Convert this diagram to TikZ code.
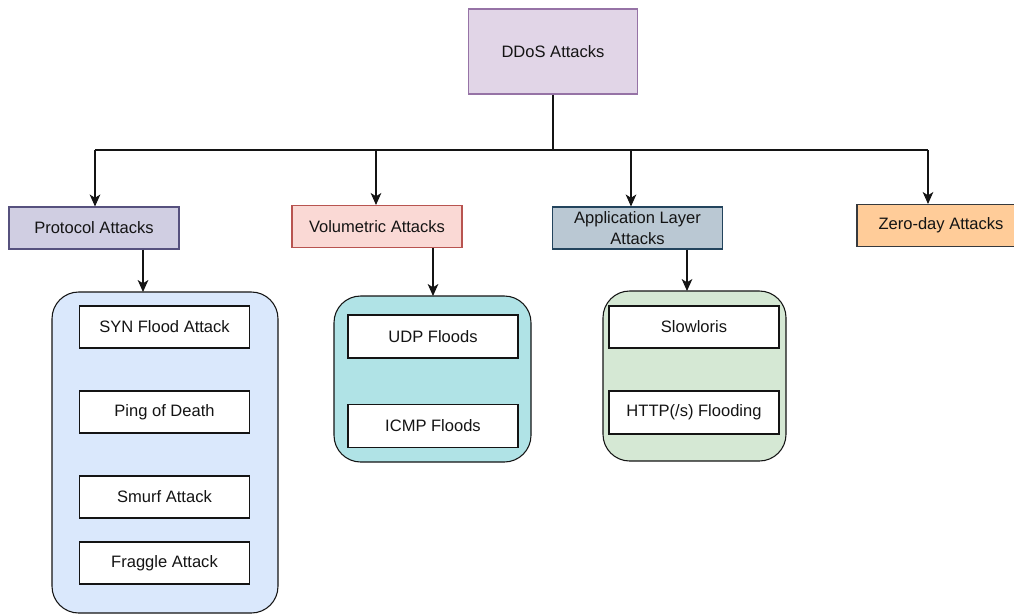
\documentclass[tikz,border=0pt]{standalone}
\usepackage{fontspec}
\setmainfont{Liberation Sans}
\usetikzlibrary{arrows.meta}

\definecolor{ddosfill}{HTML}{E1D5E7}
\definecolor{ddosline}{HTML}{9673A6}
\definecolor{protofill}{HTML}{D0CEE2}
\definecolor{protoline}{HTML}{56517E}
\definecolor{volfill}{HTML}{FAD9D5}
\definecolor{volline}{HTML}{B85450}
\definecolor{appfill}{HTML}{BAC8D3}
\definecolor{appline}{HTML}{23445D}
\definecolor{zerofill}{HTML}{FFCC99}
\definecolor{zeroline}{HTML}{36393D}
\definecolor{bluebg}{HTML}{DAE8FC}
\definecolor{tealbg}{HTML}{B0E3E6}
\definecolor{greenbg}{HTML}{D5E8D4}
\definecolor{ink}{HTML}{141414}

\tikzset{
  box/.style={draw, line width=0.8pt, inner sep=0pt, align=center,
    minimum width=127.5pt, minimum height=31.5pt, text=ink},
  item/.style={box, draw=ink, fill=white},
  group/.style={draw=ink, line width=0.8pt, rounded corners=20pt, inner sep=0pt},
  link/.style={draw=ink, line width=0.8pt},
  arr/.style={link, -{Stealth[length=9pt,width=8pt,inset=2.5pt]}}
}

\begin{document}
\begin{tikzpicture}[x=0.75pt, y=-0.75pt,
  font=\fontsize{12.4}{15.5}\selectfont]
\useasboundingbox (0,0) rectangle (1014,615);

% root
\node[box, draw=ddosline, fill=ddosfill, minimum width=126.75pt,
  minimum height=63.75pt] (ddos) at (553,51.5) {DDoS Attacks};

% categories
\node[box, draw=protoline, fill=protofill] (proto) at (94,228) {Protocol Attacks};
\node[box, draw=volline, fill=volfill] (vol) at (377,226.5) {Volumetric Attacks};
\node[box, draw=appline, fill=appfill] (app) at (637.5,228) {Application Layer\\Attacks};
\node[box, draw=zeroline, fill=zerofill, minimum width=126pt] (zero) at (941,225.5) {Zero-day Attacks};

% group containers
\node[group, fill=bluebg, minimum width=169.5pt, minimum height=240.75pt] (pgrp) at (165,452.5) {};
\node[group, fill=tealbg, minimum width=147.75pt, minimum height=124.5pt] (vgrp) at (432.5,379) {};
\node[group, fill=greenbg, minimum width=137.25pt, minimum height=127.5pt] (agrp) at (694.5,376) {};

% members
\node[item] (syn) at (164.5,327) {SYN Flood Attack};
\node[item] (ping) at (164.5,412) {Ping of Death};
\node[item] (smurf) at (164.5,497) {Smurf Attack};
\node[item] (fraggle) at (164.5,563) {Fraggle Attack};
\node[item, minimum height=32.25pt] (udp) at (433,336.5) {UDP Floods};
\node[item, minimum height=32.25pt] (icmp) at (433,426) {ICMP Floods};
\node[item] (slow) at (694,327) {Slowloris};
\node[item, minimum height=32.25pt] (http) at (694,412.5) {HTTP(/s) Flooding};

% distribution bus
\coordinate (hub) at (553,150);
\coordinate (b1) at (95,150);
\coordinate (b2) at (376,150);
\coordinate (b3) at (631,150);
\coordinate (b4) at (928,150);
\draw[link] (ddos.south) -- (hub);
\draw[link] (b1) -- (b4);
\draw[arr] (b1) -- (b1 |- proto.north);
\draw[arr] (b2) -- (b2 |- vol.north);
\draw[arr] (b3) -- (b3 |- app.north);
\draw[arr] (b4) -- (b4 |- zero.north);

% category to group
\coordinate (pin) at (143,292);
\coordinate (vin) at (433,296);
\coordinate (ain) at (687,291);
\draw[arr] (proto.south -| pin) -- (pin);
\draw[arr] (vol.south -| vin) -- (vin);
\draw[arr] (app.south -| ain) -- (ain);
\end{tikzpicture}
\end{document}
